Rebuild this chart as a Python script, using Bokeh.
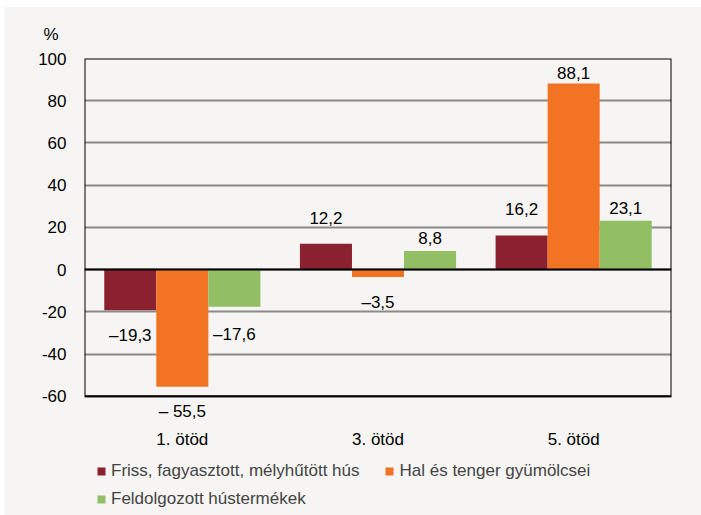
from bokeh.plotting import figure
from bokeh.layouts import column
from bokeh.models import (ColumnDataSource, FactorRange, Range1d, FixedTicker, Span,
                          Title, Legend, LegendItem)
from bokeh.core.properties import value
from bokeh.transform import dodge
from bokeh.embed import file_html
from bokeh.resources import INLINE

groups = ["1. ötöd", "3. ötöd", "5. ötöd"]
series_names = ["Friss, fagyasztott, mélyhűtött hús", "Hal és tenger gyümölcsei",
                "Feldolgozott hústermékek"]
friss = [-19.3, 12.2, 16.2]
hal = [-55.5, -3.5, 88.1]
feldolgozott = [-17.6, 8.8, 23.1]
friss_labels = ["–19,3", "12,2", "16,2"]
hal_labels = ["– 55,5", "–3,5", "88,1"]
feldolgozott_labels = ["–17,6", "8,8", "23,1"]
y_ticks = [-60, -40, -20, 0, 20, 40, 60, 80, 100]

colors = ["#8B212F", "#F37325", "#92BE64"]
pos_gap = [26, 11, 13]   # px from bar end to label centre (style)
neg_gap = [25, 25, 28]
BG = "#F6F5F3"
FONT = "Liberation Sans"
FS = "17px"

y_lo, y_hi = y_ticks[0], y_ticks[-1]
extra = 11  # room below the drawn frame for the lowest data label

p = figure(width=696, height=450, x_range=FactorRange(*groups, range_padding=0),
           y_range=Range1d(y_lo - extra, y_hi), output_backend="svg", toolbar_location=None,
           min_border_left=79, min_border_right=30, min_border_top=47, min_border_bottom=38,
           background_fill_color=BG, border_fill_color=BG)

p.outline_line_color = None
p.xgrid.grid_line_color = None
p.ygrid.grid_line_color = "#8A8A8A"
p.ygrid.grid_line_width = 2
p.yaxis.ticker = FixedTicker(ticks=y_ticks)
p.yaxis.major_label_overrides = {t: str(t) for t in y_ticks}
for ax in (p.xaxis[0], p.yaxis[0]):
    ax.axis_line_color = None
    ax.major_tick_line_color = None
    ax.minor_tick_line_color = None
    ax.major_tick_out = 0
    ax.major_tick_in = 0
    ax.minor_tick_out = 0
    ax.major_label_text_font = FONT
    ax.major_label_text_font_size = FS
    ax.major_label_text_color = "black"
p.yaxis.major_label_standoff = 18
p.xaxis.major_label_standoff = 10

p.add_layout(Span(location=0, dimension="width", line_color="black", line_width=2))

width = 0.266
offsets = [-width, 0.0, width]
renderers = []
for vals, labs, col, off, pg, ng in zip([friss, hal, feldolgozott],
                                        [friss_labels, hal_labels, feldolgozott_labels],
                                        colors, offsets, pos_gap, neg_gap):
    src = ColumnDataSource(dict(
        cat=groups, val=vals, lab=labs,
        yoff=[-pg if v >= 0 else ng for v in vals]))
    r = p.vbar(x=dodge("cat", off, range=p.x_range), top="val", bottom=0, width=width,
               source=src, fill_color=col, line_color=None)
    renderers.append(r)
    p.text(x=dodge("cat", off, range=p.x_range), y="val", text="lab", y_offset="yoff",
           source=src, text_align="center", text_baseline="middle",
           text_font=value(FONT), text_font_size=FS, text_color="black")

# plot-area frame (the data frame extends a little lower to make room for labels)
p.quad(left=[0], right=[len(groups)], bottom=[y_lo], top=[y_hi],
       fill_color=None, line_color="black", line_width=2)

p.add_layout(Title(text="%", align="left", offset=-41, standoff=30, text_font=FONT,
                   text_font_size=FS, text_font_style="normal", text_color="black"),
             "above")

# legend strip below the chart
p2 = figure(width=696, height=58, x_range=Range1d(0, 1), y_range=Range1d(0, 1),
            output_backend="svg", toolbar_location=None, x_axis_type=None, y_axis_type=None,
            min_border=0, background_fill_color=BG, border_fill_color=BG)
p2.outline_line_color = None
p2.xgrid.grid_line_color = None
p2.ygrid.grid_line_color = None
leg_renderers = [p2.vbar(x=[-5], top=[-5], width=0.1, fill_color=c, line_color=None)
                 for c in colors]

leg_common = dict(orientation="horizontal", padding=0, margin=0, spacing=25,
                  label_text_font=FONT, label_text_font_size=FS,
                  label_standoff=5, glyph_width=10, glyph_height=10,
                  background_fill_alpha=0, border_line_color=None,
                  label_height=20)
leg1 = Legend(items=[LegendItem(label=series_names[0], renderers=[leg_renderers[0]]),
                     LegendItem(label=series_names[1], renderers=[leg_renderers[1]])],
              location=(12, 34), **leg_common)
leg2 = Legend(items=[LegendItem(label=series_names[2], renderers=[leg_renderers[2]])],
              location=(12, 6), **leg_common)
p2.add_layout(leg1)
p2.add_layout(leg2)

layout = column(p, p2, spacing=0,
                styles={"margin-left": "5px", "margin-top": "7px", "background-color": BG})
open("out.html", "w").write(file_html(layout, INLINE))
